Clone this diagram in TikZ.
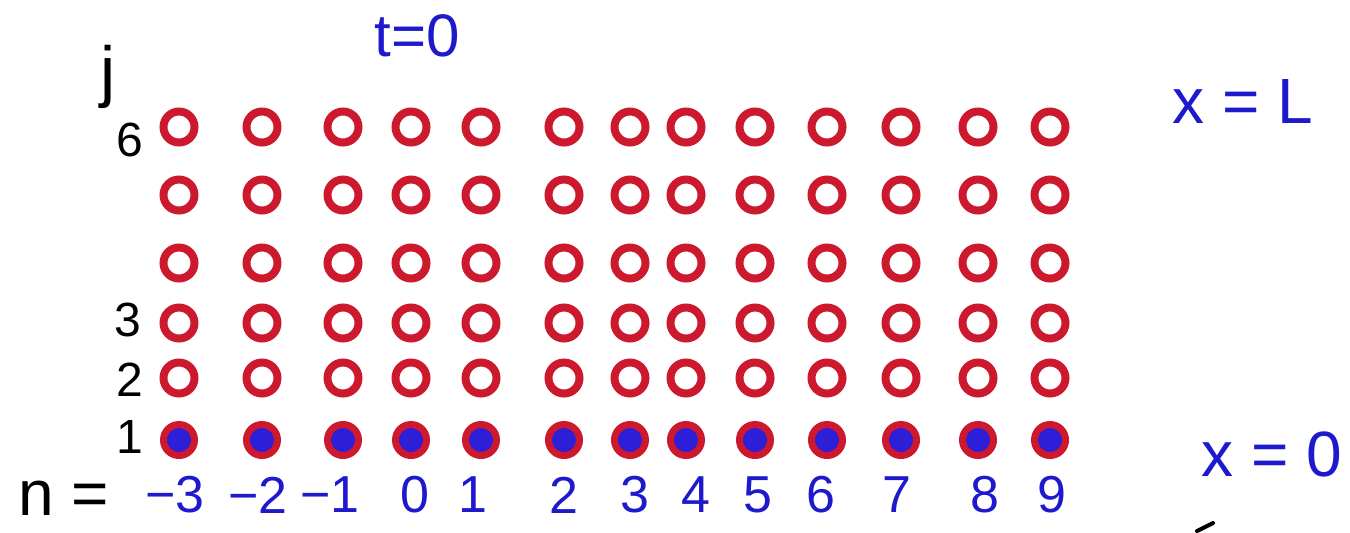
\documentclass[tikz,border=0pt]{standalone}
\usepackage{fontspec}
\setmainfont{Liberation Sans}
\definecolor{ringred}{RGB}{205,25,45}
\definecolor{inkblue}{RGB}{30,25,205}
\definecolor{dotblue}{RGB}{45,30,215}
\begin{document}
\begin{tikzpicture}[x=0.5pt, y=-0.5pt,
  every node/.style={inner sep=0pt},
  ring/.style={circle, draw=ringred, line width=4pt, minimum size=15.5pt},
  dot/.style={ring, fill=dotblue, line width=3.5pt},
  ink/.style={text=inkblue, font=\fontsize{26}{26}\selectfont},
  pen/.style={text=black, font=\fontsize{24}{24}\selectfont}]
\useasboundingbox (0,0) rectangle (1350,532);
% grid of points: columns n, rows j
\foreach \x/\lx/\lab [count=\i] in {179/175/−3, 262/258/−2, 343/330/−1, 411/415/0,
    481/473/1, 564/564/2, 630/635/3, 686/696/4, 755/758/5, 827/821/6,
    901/897/7, 978/985/8, 1050/1052/9} {
  \foreach \j/\y in {6/127, 5/195, 4/263, 3/323, 2/378}
    \node[ring] (c\i-\j) at (\x,\y) {};
  \node[dot] (c\i-1) at (\x,440) {};
  \node[ink] (lab\i) at (\lx,495) {\lab};
}
% row labels
\node[pen, font=\fontsize{34}{34}\selectfont] (jlab) at (108,77) {j};
\node[pen] (row6) at (130,140) {6};
\node[pen] (row3) at (128,320) {3};
\node[pen] (row2) at (130,380) {2};
\node[pen] (row1) at (130,437) {1};
\node[pen, font=\fontsize{32}{32}\selectfont] (nlab) at (64,498) {n =};
% boundary and time labels
\node[ink, font=\fontsize{30}{30}\selectfont] (tlab) at (417,36) {t=0};
\node[ink, font=\fontsize{32}{32}\selectfont] (xtop) at (1243,101) {x = L};
\node[ink, font=\fontsize{32}{32}\selectfont] (xbot) at (1272,454) {x = 0};
\coordinate (s0) at (1197,531);
\coordinate (s1) at (1213,523);
\draw[line width=2pt, line cap=round] (s0) -- (s1);
\end{tikzpicture}
\end{document}
